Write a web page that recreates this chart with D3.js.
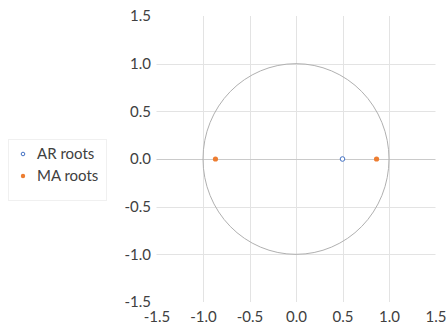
<!DOCTYPE html>
<html>
<head>
<meta charset="utf-8">
<script src="https://cdn.jsdelivr.net/npm/d3@7"></script>
<style>
  body { margin: 0; background: #fff; }
  text { font-family: Lato, "Open Sans", sans-serif; fill: #404040; }
</style>
</head>
<body>
<svg id="canvas"></svg>
<script>
let width = 447;
let height = 328;

// data
let arRoots = [{ re: 0.5, im: 0 }];
let maRoots = [{ re: -0.866, im: 0 }, { re: 0.866, im: 0 }];
let tickValues = [-1.5, -1.0, -0.5, 0.0, 0.5, 1.0, 1.5];
let gridValues = [-1.0, -0.5, 0.0, 0.5, 1.0];
let legendItems = ["AR roots", "MA roots"];

let canvas = d3.select("#canvas")
    .attr("width", width)
    .attr("height", height);

let xScale = d3.scaleLinear().domain([-1.5, 1.5]).range([156.5, 435.5]);
let yScale = d3.scaleLinear().domain([-1.5, 1.5]).range([302, 16]);

let fmt = d => d.toFixed(1);

// gridlines
canvas.append("g").selectAll("line.vgrid")
    .data(gridValues)
    .enter()
    .append("line")
    .attr("x1", d => Math.round(xScale(d)) + 0.5)
    .attr("x2", d => Math.round(xScale(d)) + 0.5)
    .attr("y1", yScale(1.5))
    .attr("y2", yScale(-1.5))
    .attr("stroke", "#e3e3e3");

canvas.append("g").selectAll("line.hgrid")
    .data(gridValues.filter(d => d !== 0))
    .enter()
    .append("line")
    .attr("y1", d => Math.round(yScale(d)) + 0.5)
    .attr("y2", d => Math.round(yScale(d)) + 0.5)
    .attr("x1", xScale(-1.5))
    .attr("x2", xScale(1.5))
    .attr("stroke", "#e3e3e3");

// horizontal axis line at 0
canvas.append("line")
    .attr("x1", xScale(-1.5))
    .attr("x2", xScale(1.5))
    .attr("y1", Math.round(yScale(0)) + 0.5)
    .attr("y2", Math.round(yScale(0)) + 0.5)
    .attr("stroke", "#cacaca");

// unit circle
canvas.append("ellipse")
    .attr("cx", xScale(0))
    .attr("cy", yScale(0))
    .attr("rx", xScale(1) - xScale(0))
    .attr("ry", yScale(0) - yScale(1))
    .attr("fill", "none")
    .attr("stroke", "#b0b0b0")
    .attr("stroke-width", 1);

// axes (labels only)
let xAxis = d3.axisBottom(xScale)
    .tickValues(tickValues)
    .tickFormat(fmt)
    .tickSize(0)
    .tickPadding(0);

canvas.append("g")
    .attr("id", "x-axis")
    .attr("transform", "translate(0,311)")
    .call(xAxis)
    .call(g => g.select(".domain").remove())
    .selectAll("text")
    .attr("font-size", "15px")
    .attr("fill", "#404040");

let yAxis = d3.axisLeft(yScale)
    .tickValues(tickValues)
    .tickFormat(fmt)
    .tickSize(0)
    .tickPadding(0);

canvas.append("g")
    .attr("id", "y-axis")
    .attr("transform", "translate(151,0)")
    .call(yAxis)
    .call(g => g.select(".domain").remove())
    .selectAll("text")
    .attr("font-size", "15px")
    .attr("fill", "#404040");

canvas.selectAll(".tick text").attr("font-family", "Lato, 'Open Sans', sans-serif");

// points
canvas.append("g").selectAll("circle.ar")
    .data(arRoots)
    .enter()
    .append("circle")
    .attr("cx", d => xScale(d.re))
    .attr("cy", d => yScale(d.im))
    .attr("r", 2.3)
    .attr("fill", "#fff")
    .attr("stroke", "#4472c4")
    .attr("stroke-width", 1);

canvas.append("g").selectAll("circle.ma")
    .data(maRoots)
    .enter()
    .append("circle")
    .attr("cx", d => xScale(d.re))
    .attr("cy", d => yScale(d.im))
    .attr("r", 2.6)
    .attr("fill", "#ed7d31");

// legend
let legend = canvas.append("g").attr("transform", "translate(8,139)");
legend.append("rect")
    .attr("x", 0.5).attr("y", 0.5)
    .attr("width", 98).attr("height", 61)
    .attr("fill", "#fff")
    .attr("stroke", "#f0f0f0");

let entry = legend.selectAll("g.entry")
    .data(legendItems)
    .enter()
    .append("g")
    .attr("transform", (d, i) => "translate(0," + (15 + i * 22) + ")");

entry.append("circle")
    .attr("cx", 15)
    .attr("cy", 0)
    .attr("r", (d, i) => i === 0 ? 1.8 : 2.2)
    .attr("fill", (d, i) => i === 0 ? "#fff" : "#ed7d31")
    .attr("stroke", (d, i) => i === 0 ? "#4472c4" : "none")
    .attr("stroke-width", 1);

entry.append("text")
    .attr("x", 29)
    .attr("y", 0)
    .attr("dy", "0.35em")
    .attr("font-size", "15px")
    .text(d => d);
</script>
</body>
</html>
